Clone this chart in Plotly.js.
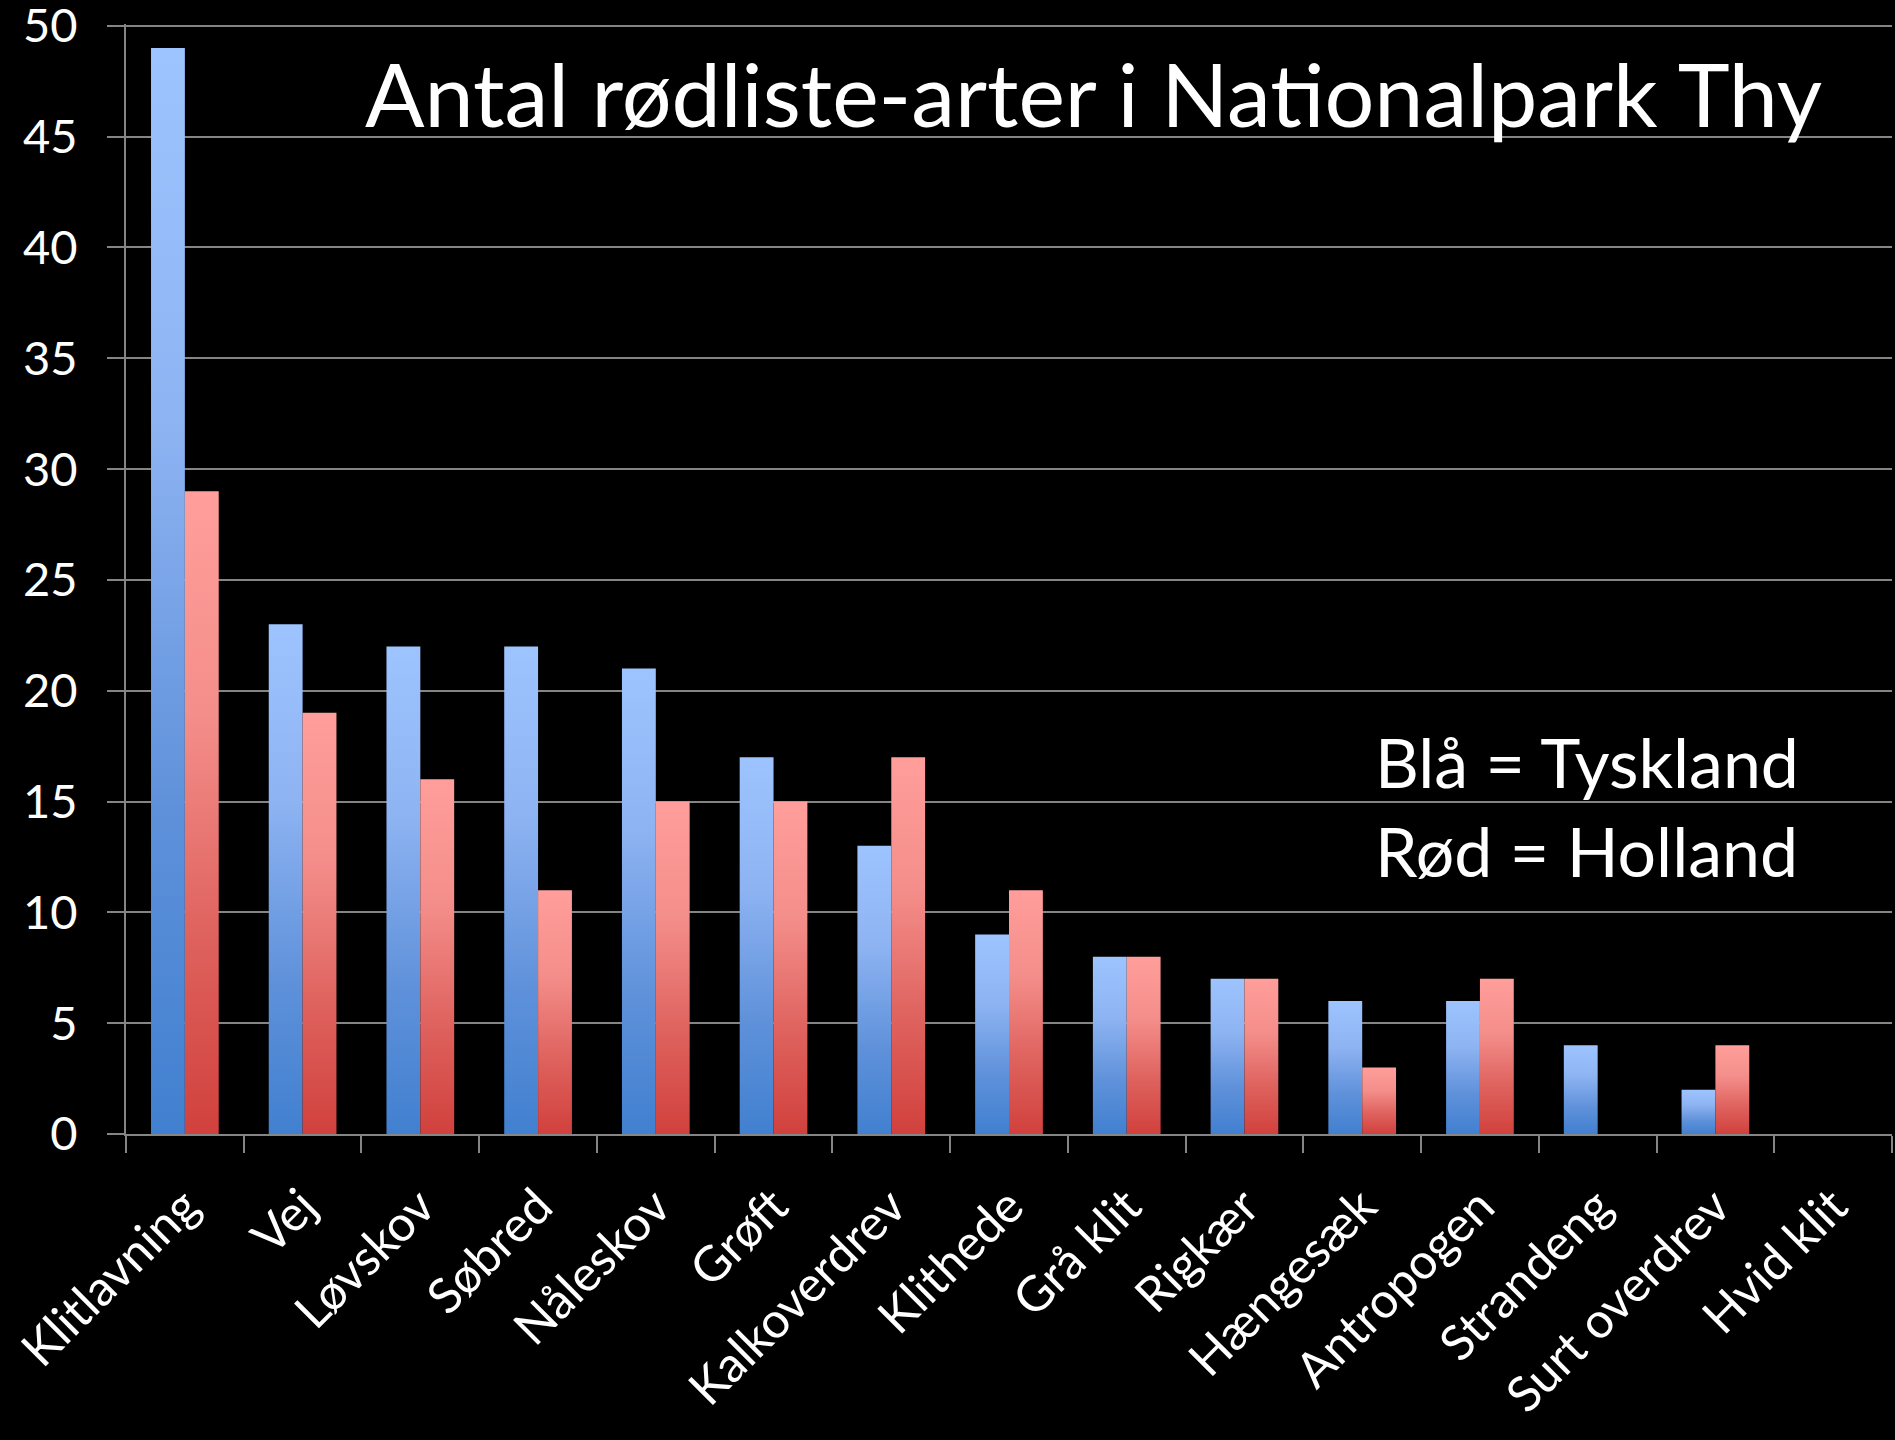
<!DOCTYPE html>
<html>
<head>
<meta charset="utf-8">
<script src="https://cdn.plot.ly/plotly-3.0.1.min.js"></script>
<style>
  html, body { margin: 0; padding: 0; background: #000; }
  #chart { width: 1895px; height: 1440px; }
</style>
</head>
<body>
<div id="chart"></div>
<script>
// ---- data ----
const categories = ["Klitlavning", "Vej", "Løvskov", "Søbred", "Nåleskov", "Grøft", "Kalkoverdrev",
  "Klithede", "Grå klit", "Rigkær", "Hængesæk", "Antropogen", "Strandeng", "Surt overdrev", "Hvid klit"];
const tyskland = [49, 23, 22, 22, 21, 17, 13, 9, 8, 7, 6, 6, 4, 2, 0];
const holland  = [29, 19, 16, 11, 15, 15, 17, 11, 8, 7, 3, 7, 0, 4, 0];
const yTicks = [0, 5, 10, 15, 20, 25, 30, 35, 40, 45, 50];
const titleText = "Antal rødliste-arter i Nationalpark Thy";
const noteBlue = "Blå = Tyskland";
const noteRed = "Rød = Holland";

const FONT = "Lato, 'Open Sans', sans-serif";
const GRID = "#858585";

const traces = [
  { type: "bar", name: "Tyskland", x: categories, y: tyskland,
    marker: { color: "#6E9DE4", line: { width: 0 } }, hoverinfo: "x+y" },
  { type: "bar", name: "Holland", x: categories, y: holland,
    marker: { color: "#E87370", line: { width: 0 } }, hoverinfo: "x+y" }
];

const layout = {
  width: 1895, height: 1440, autosize: false,
  paper_bgcolor: "#000", plot_bgcolor: "#000",
  margin: { l: 126, r: 3, t: 24, b: 306, pad: 0 },
  showlegend: false,
  barmode: "group", bargap: 0.425, bargroupgap: 0,
  font: { family: FONT, color: "#fff", size: 47 },
  xaxis: {
    type: "category", tickangle: -45, ticks: "outside", tickson: "boundaries",
    ticklen: 17, tickwidth: 2, tickcolor: GRID,
    showline: true, linecolor: GRID, linewidth: 2, showgrid: false,
    ticklabelstandoff: 22, ticklabeloverflow: "allow",
    tickfont: { family: FONT, size: 49, color: "#fff" },
    range: [-0.5, 14.5], fixedrange: true
  },
  yaxis: {
    range: [0, 50.08], tickmode: "array", tickvals: yTicks, ticktext: yTicks.map(String),
    ticks: "outside",
    ticklen: 17, tickwidth: 2, tickcolor: GRID,
    showline: true, linecolor: GRID, linewidth: 2,
    showgrid: true, gridcolor: GRID, gridwidth: 2, zeroline: false,
    ticklabelstandoff: 20, ticklabeloverflow: "allow",
    tickfont: { family: FONT, size: 47, color: "#fff" }, fixedrange: true
  },
  annotations: [
    { text: titleText, xref: "paper", yref: "paper", x: 0.548, y: 0.9375,
      xanchor: "center", yanchor: "middle", showarrow: false,
      font: { family: FONT, size: 88, color: "#fff" } },
    { text: noteBlue, xref: "paper", yref: "paper", x: 0.706, y: 0.336,
      xanchor: "left", yanchor: "middle", showarrow: false,
      font: { family: FONT, size: 68, color: "#fff" } },
    { text: noteRed, xref: "paper", yref: "paper", x: 0.706, y: 0.255,
      xanchor: "left", yanchor: "middle", showarrow: false,
      font: { family: FONT, size: 68, color: "#fff" } }
  ]
};

function addGradient(defs, id, stops) {
  const ns = "http://www.w3.org/2000/svg";
  const g = document.createElementNS(ns, "linearGradient");
  g.setAttribute("id", id);
  g.setAttribute("x1", "0"); g.setAttribute("y1", "0");
  g.setAttribute("x2", "0"); g.setAttribute("y2", "1");
  stops.forEach(([off, col]) => {
    const s = document.createElementNS(ns, "stop");
    s.setAttribute("offset", off);
    s.setAttribute("stop-color", col);
    g.appendChild(s);
  });
  defs.appendChild(g);
}

function applyGradients(gd) {
  const svg = gd.querySelector("svg.main-svg");
  let defs = svg.querySelector("defs");
  if (!defs) { defs = document.createElementNS("http://www.w3.org/2000/svg", "defs"); svg.prepend(defs); }
  if (!svg.querySelector("#gradBlue")) {
    addGradient(defs, "gradBlue", [["0", "#9EC4FF"], ["0.35", "#8DB3F2"], ["0.7", "#5F91DA"], ["1", "#4180D0"]]);
    addGradient(defs, "gradRed", [["0", "#FF9E9B"], ["0.35", "#F48E8A"], ["0.7", "#DE615D"], ["1", "#D1413D"]]);
  }
  const ids = ["gradBlue", "gradRed"];
  gd.querySelectorAll(".barlayer .trace").forEach((tr, i) => {
    tr.querySelectorAll("path").forEach(p => { p.style.fill = "url(#" + ids[i] + ")"; });
  });
}

Plotly.newPlot("chart", traces, layout, { displayModeBar: false, staticPlot: true })
  .then(gd => { applyGradients(gd); gd.on("plotly_afterplot", () => applyGradients(gd)); });
</script>
</body>
</html>
